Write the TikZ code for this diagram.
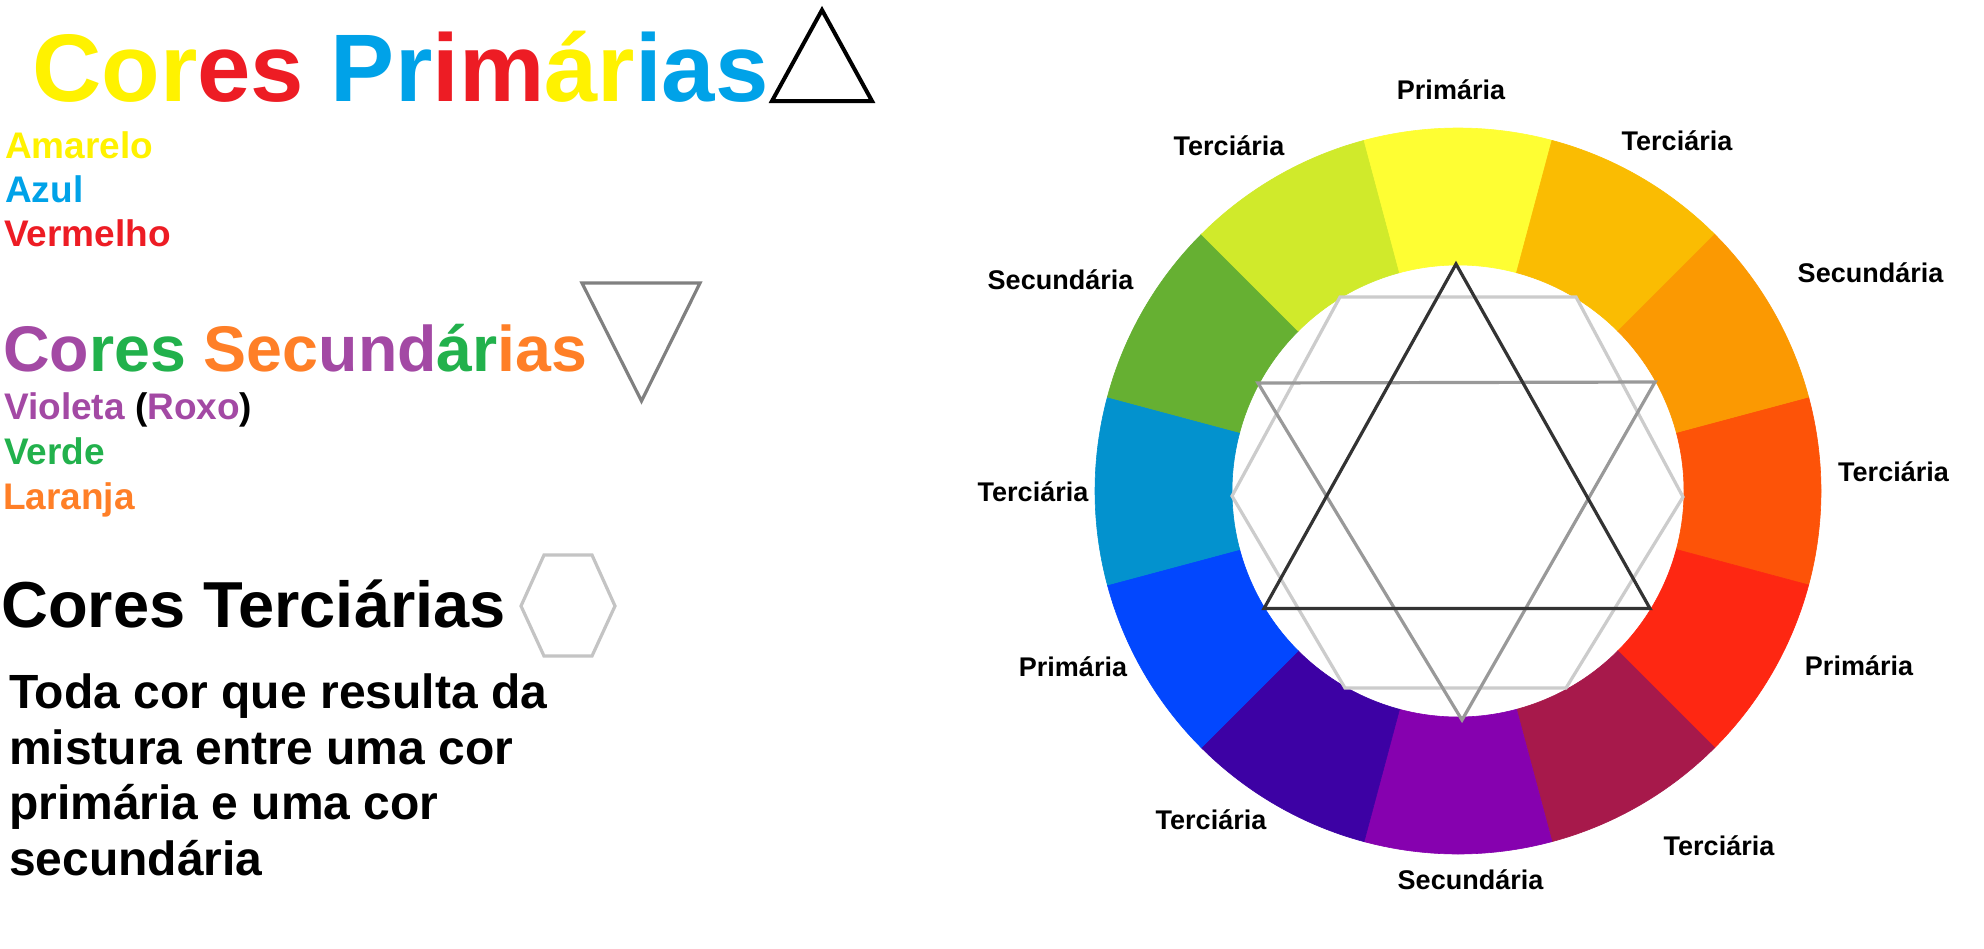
\documentclass[tikz,border=0pt]{standalone}
\usepackage{fontspec}
\setmainfont{Liberation Sans}
\usepackage{tikz}
\usetikzlibrary{calc, positioning}
% paint colours for the text
\definecolor{pyellow}{HTML}{FFF200}
\definecolor{pred}{HTML}{ED1C24}
\definecolor{pblue}{HTML}{00A2E8}
\definecolor{ppurple}{HTML}{A349A4}
\definecolor{pgreen}{HTML}{22B14C}
\definecolor{porange}{HTML}{FF7F27}
% wheel colours
\definecolor{wY}{HTML}{FEFE33}
\definecolor{wYO}{HTML}{FABC02}
\definecolor{wO}{HTML}{FB9902}
\definecolor{wRO}{HTML}{FD5308}
\definecolor{wR}{HTML}{FE2712}
\definecolor{wRV}{HTML}{A7194B}
\definecolor{wV}{HTML}{8601AF}
\definecolor{wBV}{HTML}{3D01A4}
\definecolor{wB}{HTML}{0247FE}
\definecolor{wBG}{HTML}{0392CE}
\definecolor{wG}{HTML}{66B032}
\definecolor{wYG}{HTML}{D0EA2B}

\begin{document}
\begin{tikzpicture}[x=1pt, y=-1pt,
    heading/.style={anchor=base west, inner sep=0pt, font=\fontsize{#1}{#1}\selectfont\bfseries},
    item/.style={anchor=base west, inner sep=0pt, text=#1, font=\fontsize{37}{40}\selectfont\bfseries},
    body/.style={anchor=base west, inner sep=0pt, font=\fontsize{48}{56}\selectfont\bfseries},
    wheellabel/.style={anchor=base, inner sep=0pt, font=\fontsize{27}{30}\selectfont\bfseries},
    shapeline/.style={draw=#1, line width=3.2pt, line join=miter}
]
\fill[white] (0,0) rectangle (1984,948);
\useasboundingbox (0,0) rectangle (1984,948);

% primary colours
\node[heading=96] (titprim) at (32,101.7) {\textcolor{pyellow}{Cor}\textcolor{pred}{es} \textcolor{pblue}{Pr}\textcolor{pred}{im}\textcolor{pyellow}{ár}\textcolor{pblue}{ias}};
\draw[shapeline=black, line width=4pt] (822,10) -- (872,101) -- (772,101) -- cycle;
\node[item=pyellow] (amarelo) at (5,158.3) {Amarelo};
\node[item=pblue] (azul) at (5,202.7) {Azul};
\node[item=pred] (vermelho) at (4,246.7) {Vermelho};

% secondary colours
\node[heading=64.5] (titsec) at (3,371) {\textcolor{ppurple}{Co}\textcolor{pgreen}{res} \textcolor{porange}{Sec}\textcolor{ppurple}{und}\textcolor{pgreen}{ár}\textcolor{porange}{ias}};
\draw[shapeline=black!50] (582,283) -- (700,283) -- (641.5,401) -- cycle;
\node[item=ppurple] (violeta) at (4,419.3) {Violeta \textcolor{black}{(}Roxo\textcolor{black}{)}};
\node[item=pgreen] (verde) at (4,464.3) {Verde};
\node[item=porange] (laranja) at (3,509) {Laranja};

% tertiary colours
\node[heading=65] (titter) at (1,627) {Cores Terciárias};
\draw[shapeline=black!23] (521,606) -- (544,555) -- (592,555) -- (615,606) -- (592,656) -- (544,656) -- cycle;
\foreach \txt/\y [count=\i] in {Toda cor que resulta da/708, mistura entre uma cor/764, primária e uma cor/819.7, secundária/875.7}
  \node[body] (def\i) at (9,\y) {\txt};

% colour wheel
\coordinate (wc) at (1458,491);
\foreach \c [count=\i from 0, evaluate=\i as \a using \i*30-15] in {wRO,wR,wRV,wV,wBV,wB,wBG,wG,wYG,wY,wYO,wO}
  \fill[\c, draw=\c, line width=0.6pt] ($(wc)+(\a:363)$) arc[start angle=\a, end angle=\a+30, radius=363]
    -- ($(wc)+(\a+30:226)$) arc[start angle=\a+30, end angle=\a, radius=226] -- cycle;

\draw[shapeline=black!20] (1340,297) -- (1576,297) -- (1683,497) -- (1566,688) -- (1345,688) -- (1232,496) -- cycle;
\draw[shapeline=black!40] (1258,383) -- (1655,382) -- (1462,720) -- cycle;
\draw[shapeline=black!80] (1456,264) -- (1650,608.5) -- (1264,608.5) -- cycle;

\foreach \txt/\x/\y [count=\i] in {Primária/1451/99.8, Terciária/1677/150.7, Secundária/1870.5/282.7,
    Terciária/1893.5/481, Primária/1859/675, Terciária/1719/855, Secundária/1470.5/889,
    Terciária/1211/829, Primária/1073/676.7, Terciária/1033/501, Secundária/1060.5/289, Terciária/1229/155}
  \node[wheellabel] (lbl\i) at (\x,\y) {\txt};
\end{tikzpicture}
\end{document}
